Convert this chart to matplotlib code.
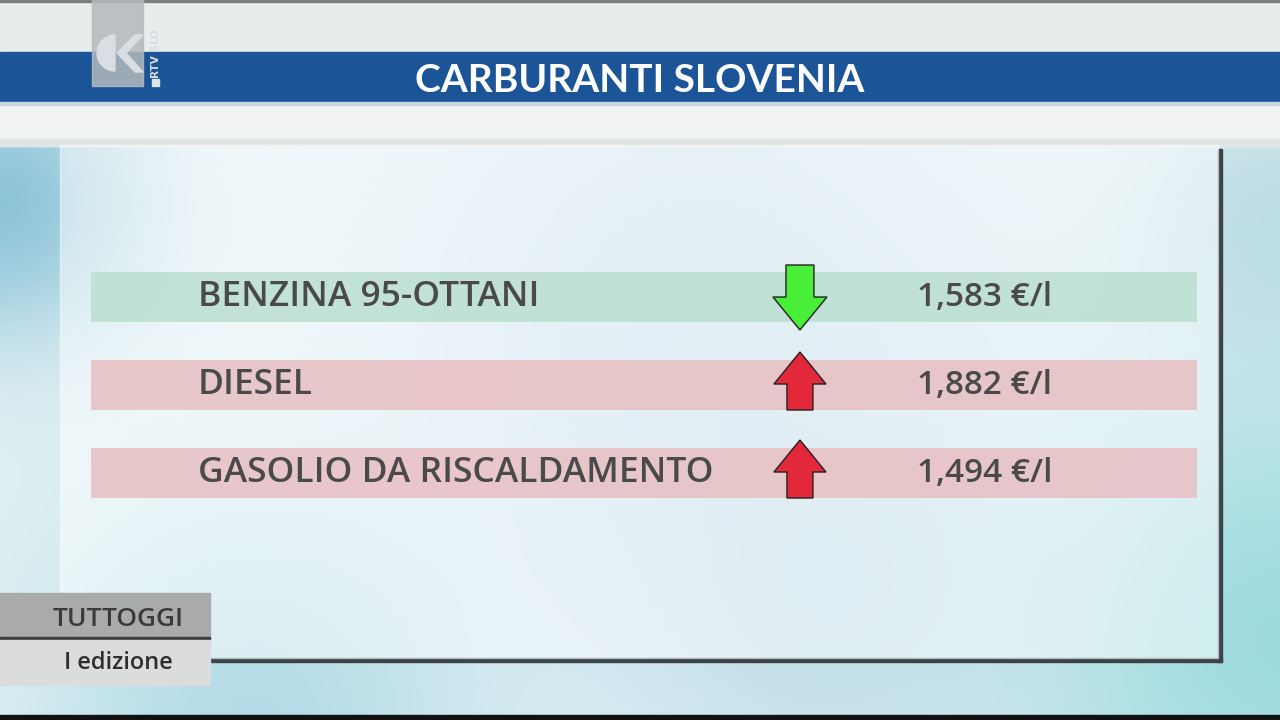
import matplotlib.pyplot as plt
import numpy as np
from matplotlib.patches import Rectangle, Polygon, Wedge
import matplotlib.transforms as mtransforms

title = "CARBURANTI SLOVENIA"
fuels = ["BENZINA 95-OTTANI", "DIESEL", "GASOLIO DA RISCALDAMENTO"]
prices = [1.583, 1.882, 1.494]
trend = ["down", "up", "up"]
show_name = "TUTTOGGI"
edition = "I edizione"

row_colors = {"down": "#bde0d2", "up": "#e8c2c6"}
arrow_colors = {"down": "#48ee38", "up": "#e3283a"}
text_col = "#4a4a4a"

W, H = 1280, 720
fig = plt.figure(figsize=(12.8, 7.2), dpi=100)
bg = fig.add_axes([0, 0, 1, 1])
bg.set_xlim(0, W)
bg.set_ylim(H, 0)
bg.axis("off")

# soft blurred backdrop
yy, xx = np.mgrid[0:H:4, 0:W:4]
img = np.ones(xx.shape + (3,)) * np.array([0.90, 0.95, 0.96])
def blob(cx, cy, r, col, k):
    g = np.exp(-((xx - cx) ** 2 + (yy - cy) ** 2) / (2 * r ** 2))[..., None]
    return g * k * (np.array(col) - img)
img += blob(0, 200, 100, [0.50, 0.74, 0.83], 0.85)
img += blob(1280, 640, 200, [0.55, 0.84, 0.85], 0.8)
img += blob(250, 720, 160, [0.62, 0.83, 0.88], 0.7)
img += blob(700, 330, 230, [0.74, 0.85, 0.92], 0.7)
img += blob(820, 600, 150, [0.70, 0.84, 0.90], 0.6)
img += blob(1280, 220, 100, [0.66, 0.82, 0.86], 0.6)
bg.imshow(np.clip(img, 0, 1), extent=[0, W, H, 0], aspect="auto", zorder=0, interpolation="bilinear")

# header strips
bg.add_patch(Rectangle((0, 0), W, 52, color="#e8ecec", zorder=1))
bg.add_patch(Rectangle((0, 0), W, 2, color="#7a7f80", zorder=1))
bg.add_patch(Rectangle((0, 104), W, 42, color="#f1f3f3", zorder=1))
bg.add_patch(Rectangle((0, 139), W, 7, color="#e1e5e5", zorder=1))
bg.add_patch(Rectangle((0, 52), W, 52, color="#1c5597", zorder=2))
bg.add_patch(Rectangle((0, 102), W, 3, color="#c9d6e2", zorder=2))
bg.text(640, 80, title, color="white", fontsize=28, fontweight="bold", family="Lato",
        ha="center", va="center", zorder=5)

# logo
bg.add_patch(Rectangle((92, 0), 51, 86, color="#b4babc", alpha=0.85, zorder=3))
bg.add_patch(Wedge((115, 53), 18, 90, 270, color="#d8dee2", zorder=4))
bg.add_patch(Polygon([(117, 53), (135, 35), (143, 35), (126, 53), (143, 72), (135, 72)],
                     closed=True, color="#d8dee2", zorder=4))
bg.text(156, 54, "RTV SLO", rotation=90, fontsize=7.5, color="#d6dce2", family="DejaVu Sans",
        fontweight="bold", ha="center", va="center", zorder=4)
bg.add_patch(Rectangle((152, 79), 7, 7, color="#dfe5ea", zorder=4))

# panel with shadow on the right and bottom edges
bg.add_patch(Rectangle((1218, 149), 4, 513, color="#3a4448", zorder=1.5))
bg.add_patch(Rectangle((64, 658), 1158, 4, color="#3a4448", zorder=1.5))
bg.add_patch(Rectangle((60, 145), 1158, 513, color="white", alpha=0.5, zorder=1.5))

# bottom strip
bg.add_patch(Rectangle((0, 715), W, 5, color="#111111", zorder=6))

# programme tag
bg.add_patch(Rectangle((0, 593), 210, 45, color="#a9abaa", zorder=6))
bg.add_patch(Rectangle((0, 637), 210, 3, color="#3c3c3c", zorder=6))
bg.add_patch(Rectangle((0, 640), 210, 45, color="#dadddb", zorder=6))
bg.text(118, 619, show_name, fontsize=19, color="#3a3a3a", family="Open Sans",
        fontweight="semibold", ha="center", va="center", zorder=7)
bg.text(118, 663, edition, fontsize=17, color="#2e2e2e", family="Open Sans",
        fontweight="semibold", ha="center", va="center", zorder=7)

# rows
ax = fig.add_axes([91 / W, 1 - 517 / H, (1197 - 91) / W, (517 - 253) / H])
ax.set_xlim(0, 1)
ax.set_ylim(len(fuels) - 0.5, -0.5)
ax.axis("off")
ax.patch.set_alpha(0)
ypos = np.arange(len(fuels))
ax.barh(ypos, [1] * len(fuels), height=0.57, left=0,
        color=[row_colors[t] for t in trend], alpha=0.9)

up = np.array([(0, 33), (26, 1), (13, 1), (13, -25), (-13, -25), (-13, 1), (-26, 1)]) / 100.0
down = np.array([(0, -33), (27, 0), (14, 0), (14, 32), (-14, 32), (-14, 0), (-27, 0)]) / 100.0

for i, (name, p, t) in enumerate(zip(fuels, prices, trend)):
    ax.text(0.0967, i, name, fontsize=25.5, fontweight="semibold", family="Open Sans",
            color=text_col, ha="left", va="center")
    ax.text(0.869, i, f"{p:.3f}".replace(".", ",") + " €/l", fontsize=24,
            fontweight="semibold", family="Open Sans", color=text_col, ha="right", va="center")
    tr = fig.dpi_scale_trans + mtransforms.ScaledTranslation(0.641, i, ax.transData)
    ax.add_patch(Polygon(up if t == "up" else down, closed=True, transform=tr,
                         facecolor=arrow_colors[t], edgecolor="#222222", lw=1, zorder=5))

fig.savefig("out.png", dpi=100)
